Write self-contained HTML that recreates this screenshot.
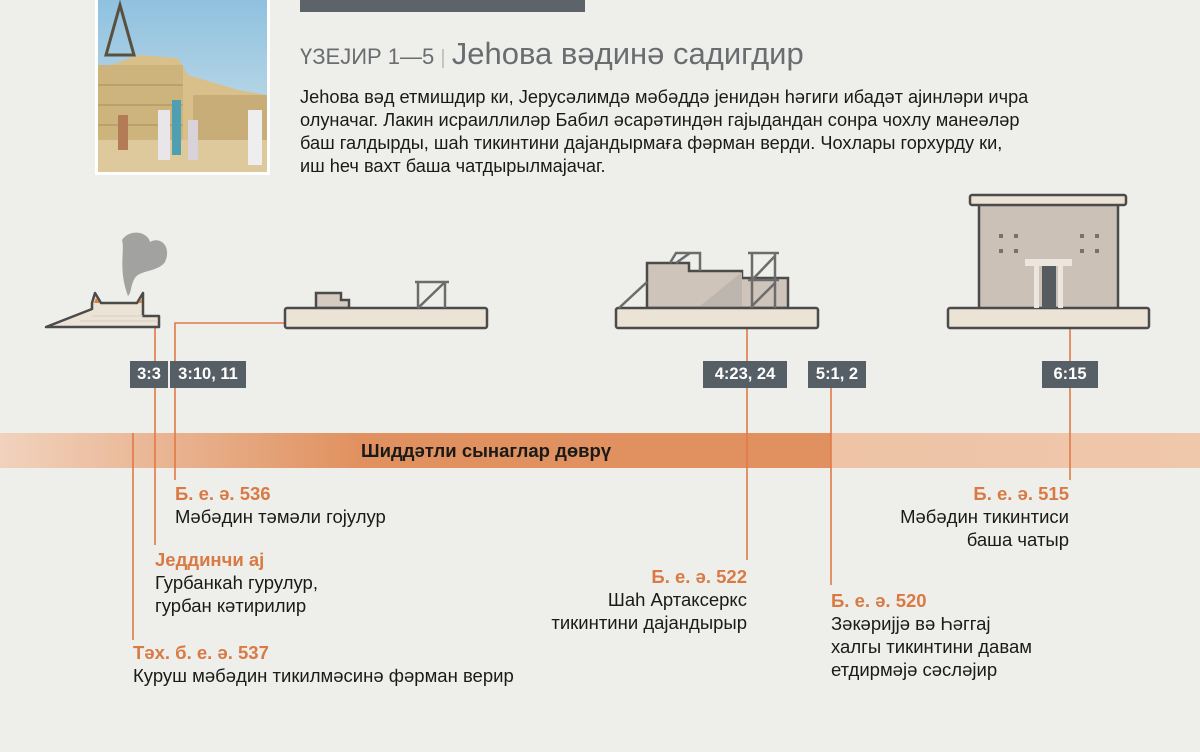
<!DOCTYPE html>
<html><head><meta charset="utf-8"><style>
html,body{margin:0;padding:0;}
body{width:1200px;height:752px;background:#eeeeeb;position:relative;overflow:hidden;font-family:"Liberation Sans","DejaVu Sans",sans-serif;color:#1a1a1a;}
.t{position:absolute;font-size:18.5px;line-height:23px;white-space:nowrap;}
.o{color:#d97a44;font-weight:bold;}
.r{text-align:right;}
.lbl{position:absolute;background:#565e66;color:#fff;font-weight:bold;font-size:16.5px;height:27px;line-height:27px;text-align:center;}
</style></head><body>
<div style="position:absolute;left:95px;top:-4px;width:175px;height:179px;background:#fff;"></div>
<svg style="position:absolute;left:98px;top:0" width="169" height="172">
<defs><linearGradient id="sky" x1="0" y1="0" x2="0" y2="1"><stop offset="0" stop-color="#8fc1df"/><stop offset="1" stop-color="#cfe3ea"/></linearGradient></defs>
<rect width="169" height="172" fill="url(#sky)"/>
<polygon points="0,70 40,55 80,58 90,75 140,90 169,95 169,172 0,172" fill="#d9c08a"/>
<rect x="0" y="65" width="85" height="80" fill="#cdb47c"/>
<rect x="95" y="95" width="74" height="50" fill="#c9ad78"/>
<rect x="0" y="140" width="169" height="32" fill="#ddc99b"/>
<g stroke="#a68c5c" stroke-width="1"><line x1="0" y1="85" x2="85" y2="85"/><line x1="0" y1="105" x2="85" y2="105"/><line x1="0" y1="125" x2="85" y2="125"/></g>
<polygon points="8,55 22,5 36,55" fill="none" stroke="#5a5040" stroke-width="3"/>
<rect x="60" y="110" width="12" height="50" fill="#e9e6ea"/><rect x="74" y="100" width="9" height="55" fill="#4f9fb2"/>
<rect x="90" y="120" width="10" height="40" fill="#d9d2d8"/><rect x="150" y="110" width="14" height="55" fill="#eee"/>
<rect x="20" y="115" width="10" height="35" fill="#b47c56"/>
</svg>
<div style="position:absolute;left:300px;top:0;width:285px;height:12px;background:#5c6369"></div>
<div class="t" style="left:300px;top:36px;font-size:22px;line-height:36px;color:#6a6d70;">ҮЗЕЈИР 1—5 <span style="color:#bbb;font-size:20px">|</span> <span style="font-size:31px;">Јеһова вәдинә садигдир</span></div>
<div class="t" style="left:300px;top:86px;font-size:18.2px;line-height:23px;">Јеһова вәд етмишдир ки, Јерусәлимдә мәбәддә јенидән һәгиги ибадәт ајинләри ичра<br>олуначаг. Лакин исраиллиләр Бабил әсарәтиндән гајыдандан сонра чохлу манеәләр<br>баш галдырды, шаһ тикинтини дајандырмаға фәрман верди. Чохлары горхурду ки,<br>иш һеч вахт баша чатдырылмајачаг.</div>

<div style="position:absolute;left:0;top:433px;width:1200px;height:35px;background:linear-gradient(90deg,#f1d2bd 0px,#e5a57c 250px,#e1915f 360px,#e1915f 831px,#eec3a6 831px,#efc7ab 1200px);"></div>
<div class="t" style="left:361px;top:439px;font-weight:bold;font-size:18.5px;">Шиддәтли сынаглар дөврү</div>

<svg style="position:absolute;left:0;top:0" width="1200" height="752">
<g stroke="#e07a48" stroke-width="1.6" fill="none">
<line x1="133" y1="433" x2="133" y2="640"/>
<line x1="155" y1="326" x2="155" y2="545"/>
<polyline points="285,323 175,323 175,480"/>
<line x1="747" y1="328" x2="747" y2="560"/>
<line x1="831" y1="385" x2="831" y2="585"/>
<line x1="1070" y1="328" x2="1070" y2="480"/>
</g>
<path d="M128,296 C118,270 125,250 122,240 C130,228 148,232 150,242 C160,236 172,246 165,262 C158,272 140,270 135,278 C130,286 132,292 128,296Z" fill="#8f8f8f" opacity="0.8"/>
<g stroke="#4b4b4b" stroke-width="2.5" stroke-linejoin="round">
<polygon points="46,327 92,309 92,303 95,293 101,303 137,303 143,293 143,303 143,316 159,316 159,327" fill="#ece3d7"/>
</g>
<g stroke="#d9cfc2" stroke-width="1"><line x1="92" y1="316" x2="143" y2="316"/><line x1="80" y1="321" x2="158" y2="321"/></g>
<polygon points="96,298 100,303 94,303" fill="#d9803f"/><polygon points="141,298 142,303 138,303" fill="#d9803f"/>
<g stroke="#4b4b4b" stroke-width="2.5">
<polygon points="316,308 316,293 341,293 341,300 349,300 349,308" fill="#d6cbc0"/>
<rect x="285" y="308" width="202" height="20" rx="2" fill="#ece3d7"/>
</g>
<g stroke="#6c6c6c" stroke-width="2.5"><line x1="418" y1="282" x2="418" y2="308"/><line x1="445" y1="282" x2="445" y2="308"/><line x1="415" y1="282" x2="449" y2="282"/><line x1="418" y1="308" x2="445" y2="282"/></g>
<g stroke="#4b4b4b" stroke-width="2.5">
<polygon points="647,308 647,263 689,263 689,271 742,271 742,278 788,278 788,308" fill="#cfc4ba"/>
<rect x="616" y="308" width="202" height="20" rx="2" fill="#ece3d7"/>
</g>
<polygon points="700,306 742,272 742,306" fill="#bdb6af"/>
<g stroke="#6c6c6c" stroke-width="2.5" fill="none">
<line x1="619" y1="308" x2="647" y2="282"/>
<polyline points="670,263 676,253 700,253 700,271"/><line x1="676" y1="263" x2="690" y2="253"/>
<line x1="752" y1="253" x2="752" y2="308"/><line x1="775" y1="253" x2="775" y2="308"/><line x1="748" y1="253" x2="779" y2="253"/><line x1="748" y1="280" x2="779" y2="280"/><line x1="752" y1="280" x2="775" y2="256"/><line x1="752" y1="306" x2="775" y2="283"/>
</g>
<g stroke="#4b4b4b" stroke-width="2.5">
<rect x="979" y="203" width="139" height="106" fill="#cbc1b7"/>
<rect x="970" y="195" width="156" height="10" rx="2" fill="#ece3d7"/>
<rect x="948" y="308" width="201" height="20" rx="2" fill="#ece3d7"/>
</g>
<g fill="#7a716b"><rect x="999" y="234" width="4" height="4"/><rect x="1014" y="234" width="4" height="4"/><rect x="999" y="249" width="4" height="4"/><rect x="1014" y="249" width="4" height="4"/><rect x="1080" y="234" width="4" height="4"/><rect x="1095" y="234" width="4" height="4"/><rect x="1080" y="249" width="4" height="4"/><rect x="1095" y="249" width="4" height="4"/></g>
<rect x="1025" y="259" width="47" height="7" fill="#ece6df"/>
<rect x="1034" y="266" width="5" height="42" fill="#ece6df"/><rect x="1058" y="266" width="5" height="42" fill="#ece6df"/>
<rect x="1042" y="266" width="14" height="42" fill="#565b5f"/>
</svg>
<div class="lbl" style="left:130px;top:361px;width:38px;">3:3</div>
<div class="lbl" style="left:170px;top:361px;width:76px;">3:10, 11</div>
<div class="lbl" style="left:703px;top:361px;width:84px;">4:23, 24</div>
<div class="lbl" style="left:808px;top:361px;width:58px;">5:1, 2</div>
<div class="lbl" style="left:1042px;top:361px;width:56px;">6:15</div>

<div class="t" style="left:175px;top:482px;"><span class="o">Б. е. ә. 536</span><br>Мәбәдин тәмәли гојулур</div>
<div class="t" style="left:155px;top:548px;"><span class="o">Једдинчи ај</span><br>Гурбанкаһ гурулур,<br>гурбан кәтирилир</div>
<div class="t" style="left:133px;top:641px;"><span class="o">Тәх. б. е. ә. 537</span><br>Куруш мәбәдин тикилмәсинә фәрман верир</div>
<div class="t r" style="right:453px;top:565px;"><span class="o">Б. е. ә. 522</span><br>Шаһ Артаксеркс<br>тикинтини дајандырыр</div>
<div class="t" style="left:831px;top:589px;"><span class="o">Б. е. ә. 520</span><br>Зәкәријјә вә Һәггај<br>халгы тикинтини давам<br>етдирмәјә сәсләјир</div>
<div class="t r" style="right:131px;top:482px;"><span class="o">Б. е. ә. 515</span><br>Мәбәдин тикинтиси<br>баша чатыр</div>
</body></html>
